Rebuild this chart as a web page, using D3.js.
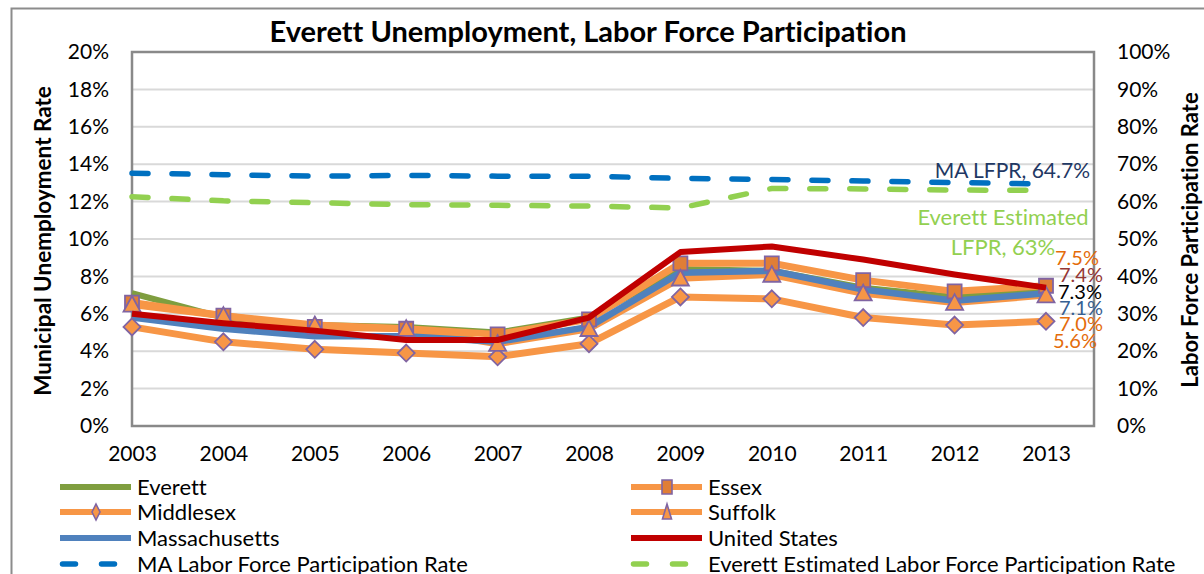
<!DOCTYPE html>
<html>
<head>
<meta charset="utf-8">
<script src="https://cdn.jsdelivr.net/npm/d3@7"></script>
<style>
  html, body { margin: 0; padding: 0; background: #fff; }
  svg { display: block; font-family: Lato, "Open Sans", sans-serif; font-variant-ligatures: none; }
</style>
</head>
<body>
<svg id="chart" width="1204" height="574"></svg>
<script>
// ---- data -------------------------------------------------------------
const years = [2003, 2004, 2005, 2006, 2007, 2008, 2009, 2010, 2011, 2012, 2013];

// unemployment rate, %
const everett       = [7.1, 5.8, 5.4, 5.3, 5.0, 5.8, 8.4, 8.3, 7.4, 6.9, 7.3];
const essex         = [6.6, 5.9, 5.3, 5.2, 4.9, 5.7, 8.7, 8.7, 7.8, 7.2, 7.5];
const middlesex     = [5.3, 4.5, 4.1, 3.9, 3.7, 4.4, 6.9, 6.8, 5.8, 5.4, 5.6];
const suffolk       = [6.5, 5.9, 5.4, 5.2, 4.4, 5.2, 7.9, 8.1, 7.1, 6.6, 7.0];
const massachusetts = [5.8, 5.2, 4.8, 4.8, 4.5, 5.3, 8.2, 8.3, 7.3, 6.7, 7.1];
const unitedStates  = [6.0, 5.5, 5.1, 4.6, 4.6, 5.8, 9.3, 9.6, 8.9, 8.1, 7.4];

// labor force participation rate, %
const maLfpr      = [67.6, 67.2, 66.8, 67.0, 66.8, 66.8, 66.2, 65.9, 65.5, 65.1, 64.7];
const everettLfpr = [61.3, 60.2, 59.7, 59.2, 59.0, 58.8, 58.3, 63.5, 63.4, 63.1, 63.0];

const leftTicks  = [0, 2, 4, 6, 8, 10, 12, 14, 16, 18, 20];
const rightTicks = [0, 10, 20, 30, 40, 50, 60, 70, 80, 90, 100];

const legendNames = [
  "Everett", "Essex", "Middlesex", "Suffolk", "Massachusetts", "United States",
  "MA Labor Force Participation Rate", "Everett Estimated Labor Force Participation Rate"
];

// ---- layout ------------------------------------------------------------
const plot = { left: 132, right: 1094, top: 52, bottom: 426 };
const svg = d3.select("#chart");

const x  = d3.scaleLinear().domain([2003, 2013]).range([plot.left, 1046]);
const yL = d3.scaleLinear().domain([0, 20]).range([plot.bottom, plot.top]);
const yR = d3.scaleLinear().domain([0, 100]).range([plot.bottom, plot.top]);

const C = {
  green: "#7F9E3F", orange: "#F79646", squareFill: "#E07E36", purple: "#8064A2",
  blue: "#4F81BD", red: "#C00000", lfprBlue: "#0070C0", lfprGreen: "#92D050",
  grid: "#D9D9D9", axis: "#898989"
};

// outer chart frame
svg.append("path")
  .attr("d", "M11.5,574 L11.5,8.5 L1204,8.5")
  .attr("fill", "none").attr("stroke", "#8C8C8C").attr("stroke-width", 2);

// title
svg.append("text")
  .attr("x", 588).attr("y", 42)
  .attr("text-anchor", "middle")
  .attr("font-weight", "bold").attr("font-size", 29)
  .attr("fill", "#000")
  .text("Everett Unemployment, Labor Force Participation");

// gridlines
svg.append("g").selectAll("line").data(leftTicks.slice(1, -1)).join("line")
  .attr("x1", plot.left).attr("x2", plot.right)
  .attr("y1", d => yL(d)).attr("y2", d => yL(d))
  .attr("stroke", C.grid).attr("stroke-width", 2);

// plot-area border
svg.append("rect")
  .attr("x", plot.left).attr("y", plot.top)
  .attr("width", plot.right - plot.left).attr("height", plot.bottom - plot.top)
  .attr("fill", "none").attr("stroke", C.axis).attr("stroke-width", 2.5);

// axes
const pct = d => d + "%";
const gL = svg.append("g").attr("transform", `translate(${plot.left - 23},0)`)
  .call(d3.axisLeft(yL).tickValues(leftTicks).tickFormat(pct).tickSize(0).tickPadding(0));
const gR = svg.append("g").attr("transform", `translate(${plot.right + 23},0)`)
  .call(d3.axisRight(yR).tickValues(rightTicks).tickFormat(pct).tickSize(0).tickPadding(0));
const gB = svg.append("g").attr("transform", `translate(0,${plot.bottom + 20})`)
  .call(d3.axisBottom(x).tickValues(years).tickFormat(d3.format("d")).tickSize(0).tickPadding(0));
[gL, gR, gB].forEach(g => {
  g.select(".domain").remove();
  g.selectAll("text").attr("font-family", "Lato, sans-serif").attr("font-size", 21).attr("fill", "#000");
});
gB.selectAll("text").attr("dy", "0.7em");

// axis titles
svg.append("text")
  .attr("transform", `translate(51,${(plot.top + plot.bottom) / 2 + 2}) rotate(-90)`)
  .attr("text-anchor", "middle").attr("font-weight", "bold").attr("font-size", 22.5)
  .text("Municipal Unemployment Rate");
svg.append("text")
  .attr("transform", `translate(1198,${(plot.top + plot.bottom) / 2 + 1}) rotate(-90)`)
  .attr("text-anchor", "middle").attr("font-weight", "bold").attr("font-size", 22)
  .text("Labor Force Participation Rate");

// ---- series ------------------------------------------------------------
const lineL = d3.line().x((d, i) => x(years[i])).y(d => yL(d));
const lineR = d3.line().x((d, i) => x(years[i])).y(d => yR(d));

const seriesLines = [
  { values: everett,       color: C.green,  width: 6 },
  { values: essex,         color: C.orange, width: 7 },
  { values: middlesex,     color: C.orange, width: 7 },
  { values: suffolk,       color: C.orange, width: 7 },
  { values: massachusetts, color: C.blue,   width: 6.5 }
];
const gLines = svg.append("g");
seriesLines.forEach(s => {
  gLines.append("path").attr("d", lineL(s.values))
    .attr("fill", "none").attr("stroke", s.color).attr("stroke-width", s.width)
    .attr("stroke-linejoin", "round");
});

// marker shapes, centred on (cx, cy)
const shapes = {
  square:   (cx, cy, r) => `M${cx - r},${cy - r}h${2 * r}v${2 * r}h${-2 * r}Z`,
  diamond:  (cx, cy, r) => `M${cx},${cy - r}L${cx + r},${cy}L${cx},${cy + r}L${cx - r},${cy}Z`,
  triangle: (cx, cy, r) => `M${cx},${cy - r}L${cx + r},${cy + r * 0.85}L${cx - r},${cy + r * 0.85}Z`
};
const markerSeries = [
  { values: essex,     shape: "square",   r: 7,   fill: C.squareFill },
  { values: middlesex, shape: "diamond",  r: 8.5, fill: C.orange },
  { values: suffolk,   shape: "triangle", r: 8.5, fill: C.orange }
];
const gMarks = svg.append("g");
markerSeries.forEach(s => {
  gMarks.selectAll(null).data(s.values).join("path")
    .attr("d", (d, i) => shapes[s.shape](x(years[i]), yL(d), s.r))
    .attr("fill", s.fill).attr("stroke", C.purple).attr("stroke-width", 1.8)
    .attr("stroke-linejoin", "miter");
});

// United States on top
svg.append("path").attr("d", lineL(unitedStates))
  .attr("fill", "none").attr("stroke", C.red).attr("stroke-width", 6)
  .attr("stroke-linejoin", "round");

// labor force participation (secondary axis)
[[maLfpr, C.lfprBlue], [everettLfpr, C.lfprGreen]].forEach(([vals, col]) => {
  svg.append("path").attr("d", lineR(vals))
    .attr("fill", "none").attr("stroke", col).attr("stroke-width", 5.5)
    .attr("stroke-dasharray", "16,24").attr("stroke-linecap", "round");
});

// ---- end-of-line value labels -------------------------------------------
const last = years.length - 1;
const endLabels = [
  { v: essex[last],         color: "#E46C0A", x: 1055, y: 258 },
  { v: unitedStates[last],  color: "#953735", x: 1059, y: 275 },
  { v: everett[last],       color: "#000000", x: 1058, y: 292 },
  { v: massachusetts[last], color: "#376092", x: 1059, y: 308 },
  { v: suffolk[last],       color: "#E46C0A", x: 1059, y: 324 },
  { v: middlesex[last],     color: "#E46C0A", x: 1053, y: 341 }
];
svg.append("g").selectAll("text").data(endLabels).join("text")
  .attr("x", d => d.x).attr("y", d => d.y).attr("dy", "0.36em")
  .attr("font-size", 20).attr("fill", d => d.color)
  .text(d => d.v.toFixed(1) + "%");

svg.append("text").attr("x", 1090).attr("y", 170).attr("dy", "0.36em")
  .attr("text-anchor", "end").attr("font-size", 21).attr("fill", "#1F3864")
  .text(`MA LFPR, ${maLfpr[last].toFixed(1)}%`);
const evLab = svg.append("text").attr("font-size", 22).attr("fill", C.lfprGreen)
  .attr("text-anchor", "middle");
evLab.append("tspan").attr("x", 1003).attr("y", 217).attr("dy", "0.36em").text("Everett Estimated");
evLab.append("tspan").attr("x", 1003).attr("y", 247).attr("dy", "0.36em")
  .text(`LFPR, ${Math.round(everettLfpr[last])}%`);

// ---- legend --------------------------------------------------------------
const legendItems = [
  { color: C.green,     dash: false, marker: null },
  { color: C.orange,    dash: false, marker: "square",   fill: C.squareFill },
  { color: C.orange,    dash: false, marker: "diamond",  fill: C.orange },
  { color: C.orange,    dash: false, marker: "triangle", fill: C.orange },
  { color: C.blue,      dash: false, marker: null },
  { color: C.red,       dash: false, marker: null },
  { color: C.lfprBlue,  dash: true,  marker: null },
  { color: C.lfprGreen, dash: true,  marker: null }
].map((d, i) => ({ ...d, name: legendNames[i] }));

const colX = [60, 631];
const rowY = [487, 512, 538, 564];
const gLeg = svg.append("g");
legendItems.forEach((d, i) => {
  const lx = colX[i % 2], ly = rowY[Math.floor(i / 2)];
  if (d.dash) {
    gLeg.append("line").attr("x1", lx + 2.5).attr("x2", lx + 66).attr("y1", ly).attr("y2", ly)
      .attr("stroke", d.color).attr("stroke-width", 5.5)
      .attr("stroke-dasharray", "13,26").attr("stroke-linecap", "round");
  } else {
    gLeg.append("line").attr("x1", lx).attr("x2", lx + 71).attr("y1", ly).attr("y2", ly)
      .attr("stroke", d.color).attr("stroke-width", 6);
  }
  if (d.marker) {
    const cx = lx + 36;
    const path = d.marker === "square"
      ? `M${cx - 5},${ly - 7}h10v14h-10Z`
      : d.marker === "diamond"
        ? `M${cx},${ly - 8}L${cx + 4},${ly}L${cx},${ly + 8}L${cx - 4},${ly}Z`
        : `M${cx},${ly - 8}L${cx + 4.5},${ly + 7}L${cx - 4.5},${ly + 7}Z`;
    gLeg.append("path").attr("d", path).attr("fill", d.fill)
      .attr("stroke", C.purple).attr("stroke-width", 1.6);
  }
  gLeg.append("text").attr("x", lx + 77).attr("y", ly).attr("dy", "0.36em")
    .attr("font-size", 22).attr("fill", "#000").text(d.name);
});
</script>
</body>
</html>
